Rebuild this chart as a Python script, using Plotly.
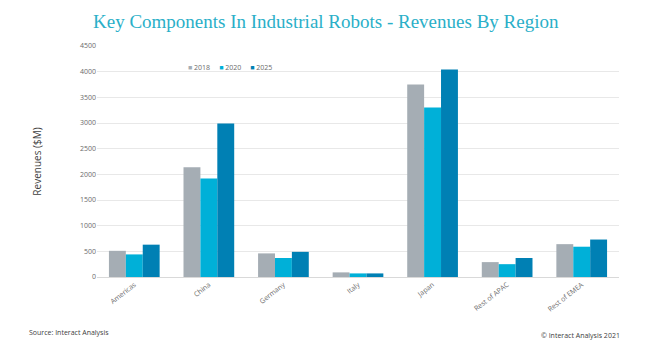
import plotly.graph_objects as go

regions = ["Americas", "China", "Germany", "Italy", "Japan", "Rest of APAC", "Rest of EMEA"]
years = ["2018", "2020", "2025"]
v2018 = [510, 2140, 460, 90, 3750, 290, 640]
v2020 = [440, 1920, 370, 70, 3300, 250, 590]
v2025 = [630, 2990, 490, 70, 4040, 370, 730]
colors = ["#A5ADB4", "#00B0D8", "#0080B4"]
yticks = [0, 500, 1000, 1500, 2000, 2500, 3000, 3500, 4000, 4500]

fig = go.Figure()
for name, vals, c in zip(years, [v2018, v2020, v2025], colors):
    fig.add_trace(go.Bar(x=regions, y=vals, name=name, showlegend=False,
                         marker=dict(color=c, line=dict(width=0))))

fig.update_layout(
    width=645, height=350,
    margin=dict(l=97, r=26, t=46, b=73),
    paper_bgcolor="white", plot_bgcolor="white",
    barmode="group", bargap=0.32, bargroupgap=0,
    font=dict(family="Open Sans", color="#6b6b6b", size=7),
    title=dict(text="Key Components In Industrial Robots - Revenues By Region",
               x=0.505, xanchor="center", y=0.94, yanchor="middle",
               font=dict(family="Liberation Serif", size=19, color="#2AAFC8")),
    showlegend=False,
)
fig.update_xaxes(tickangle=-38, showgrid=False, showline=True, linecolor="#D9D9D9",
                 tickfont=dict(size=7, color="#6b6b6b"), ticks="")
fig.update_yaxes(range=[0, 4500], tickvals=yticks, showgrid=True, gridcolor="#E8E8E8",
                 zeroline=False, tickfont=dict(size=7, color="#6b6b6b"), ticks="",
                 title=dict(text="Revenues ($M)", font=dict(size=10, color="#404040"), standoff=36))

legend_text = "&nbsp;&nbsp;&nbsp;&nbsp;&nbsp;".join(
    f"<span style='color:{c}'>■</span>&nbsp;{y}" for y, c in zip(years, colors))
fig.add_annotation(text=legend_text, xref="paper", yref="paper",
                   x=0.171, y=0.905, xanchor="left", yanchor="middle", showarrow=False,
                   font=dict(size=7, color="#6b6b6b"))

fig.add_annotation(text="Source: Interact Analysis", xref="paper", yref="paper",
                   x=-0.134, y=-0.242, xanchor="left", yanchor="middle", showarrow=False,
                   font=dict(size=7, color="#404040"))
fig.add_annotation(text="© Interact Analysis 2021", xref="paper", yref="paper",
                   x=1.006, y=-0.255, xanchor="right", yanchor="middle", showarrow=False,
                   font=dict(size=7, color="#404040"))

fig.write_html("out.html")
